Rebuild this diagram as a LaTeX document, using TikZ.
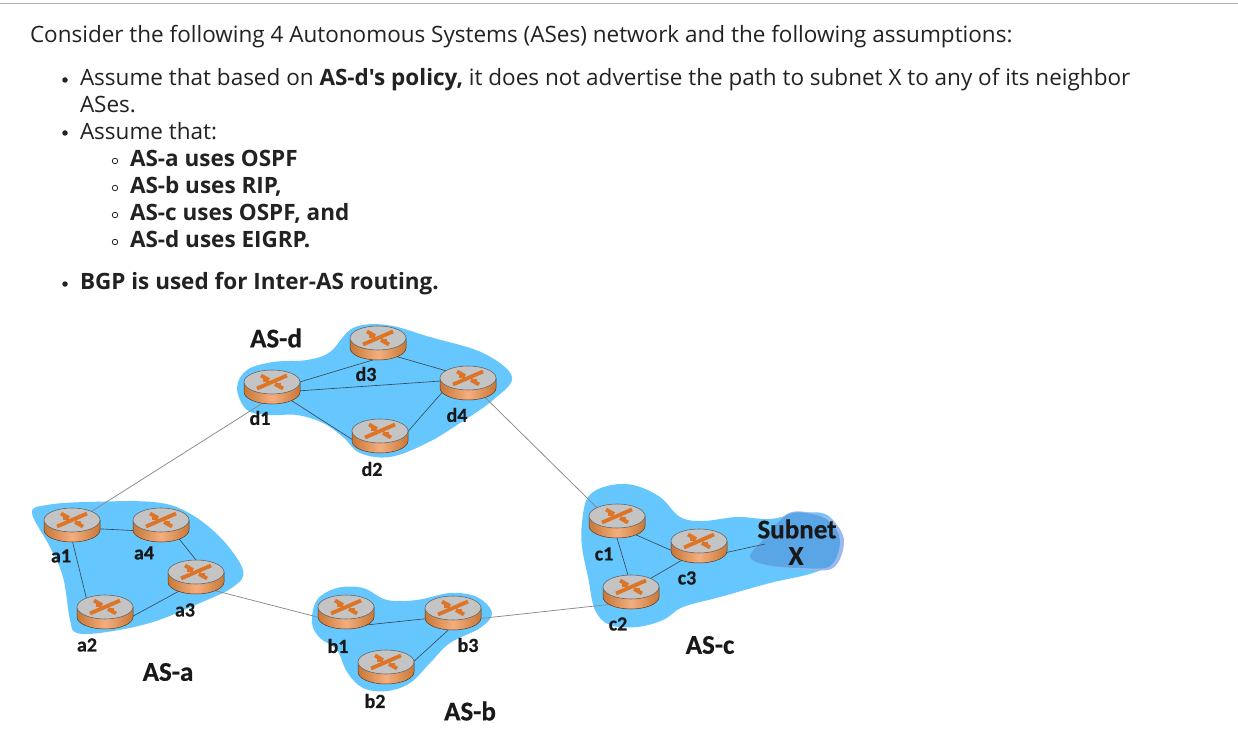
\documentclass[tikz,border=0pt]{standalone}
\usepackage{fontspec}
\newfontfamily\bodyfont{Open Sans}
\newfontfamily\lab{Carlito}[BoldFeatures={FakeBold=0.5}]
\definecolor{asblue}{HTML}{66C7FF}
\definecolor{subblue}{HTML}{5AA5E6}
\definecolor{subedge}{HTML}{9DB8EE}
\definecolor{txt}{HTML}{222222}
\definecolor{rtop}{HTML}{C4C4C4}
\definecolor{rside}{HTML}{F4AE7E}
\definecolor{rdark}{HTML}{C87838}
\definecolor{rcross}{HTML}{DD7426}
\definecolor{inner}{HTML}{3A4A55}
\definecolor{outer}{HTML}{8A8A8A}
\usetikzlibrary{shapes.geometric}
\tikzset{
  x=1pt,y=-1pt,
  body/.style={font=\bodyfont\fontsize{22.5}{26}\selectfont,text=txt,anchor=base west,inner sep=0pt,outer sep=0pt},
  bodyb/.style={body,font=\bodyfont\fontsize{22.5}{26}\selectfont\bfseries},
  dot/.style={circle,fill=txt,draw=none,minimum size=5.5pt,inner sep=0pt},
  ring/.style={circle,draw=txt,line width=.8pt,fill=none,minimum size=5.5pt,inner sep=0pt},
  blob/.style={fill=asblue,draw=none},
  rnode/.style={ellipse,minimum width=56pt,minimum height=34pt,inner sep=0pt,outer sep=0pt},
  inlink/.style={draw=inner,line width=.65pt},
  outlink/.style={draw=outer,line width=.75pt},
  rlabel/.style={font=\lab\bfseries\fontsize{20}{22}\selectfont,text=black!90,inner sep=0pt},
  aslabel/.style={font=\lab\bfseries\fontsize{27}{28}\selectfont,text=black!90,inner sep=0pt},
  sublabel/.style={font=\lab\bfseries\fontsize{27}{28}\selectfont,text=black!90,inner sep=0pt},
}
\newcommand{\routerdraw}[1]{%
  \begin{scope}[shift={(#1)}]
    \path[left color=rdark,right color=rdark,middle color=rside,draw=black!55!rdark,line width=.5pt]
      (-28,-5) -- (-28,5) arc[start angle=180,end angle=360,x radius=28pt,y radius=12pt] -- (28,-5) -- cycle;
    \path[fill=rtop,draw=black!60,line width=.6pt] (0,-5) ellipse[x radius=28pt,y radius=12pt];
    \draw[rcross,line width=3.8pt] (-11,-11.5) -- (-3,-7) (11,1.5) -- (3,-3)
      (15,-11.5) -- (-15,1.5);
    \draw[rcross,line width=3pt] (-3,-7) -- (-9,-7) (3,-3) -- (9,-3);
  \end{scope}}
\begin{document}
\begin{tikzpicture}
\useasboundingbox (0,0) rectangle (1238,743);
\fill[white] (0,0) rectangle (1238,743);
\draw[black!30,line width=1pt] (0,3.5) -- (1238,3.5);
% text
\node[body] (t0) at (30,42.6) {Consider the following 4 Autonomous Systems (ASes) network and the following assumptions:};
\node[dot] (b1) at (65,80) {};
\node[body] (t1) at (80,85.6) {Assume that based on \textbf{AS-d's policy,} it does not advertise the path to subnet X to any of its neighbor};
\node[body] (t1b) at (80,112.6) {ASes.};
\node[dot] (b2) at (65,133) {};
\node[body] (t2) at (80,139.6) {Assume that:};
\node[ring] (r1) at (115,161) {};
\node[bodyb] (t3) at (130,166.6) {AS-a uses OSPF};
\node[ring] (r2) at (115,188) {};
\node[bodyb] (t4) at (130,193.6) {AS-b uses RIP,};
\node[ring] (r3) at (115,215) {};
\node[bodyb] (t5) at (130,220.6) {AS-c uses OSPF, and};
\node[ring] (r4) at (115,242) {};
\node[bodyb] (t6) at (130,247.6) {AS-d uses EIGRP.};
\node[dot] (b3) at (65,284) {};
\node[bodyb] (t7) at (80,289.6) {BGP is used for Inter-AS routing.};
% blobs
\fill[blob] plot[smooth cycle,tension=.6] coordinates {(32,513)(47,505)(87,502)(153,502)(187,512)(220,537)(243,570)(233,587)(200,603)(153,622)(107,632)(77,633)(70,620)(63,577)(50,547)};
\fill[blob] plot[smooth cycle,tension=.6] coordinates {(237,388)(247,370)(273,362)(307,360)(330,352)(353,328)(387,325)(430,337)(483,353)(512,377)(493,400)(460,423)(427,443)(390,457)(360,453)(343,437)(323,423)(297,415)(270,415)(247,410)};
\fill[blob] plot[smooth cycle,tension=.6] coordinates {(582,523)(588,497)(607,486)(633,485)(660,497)(680,517)(703,521)(737,517)(770,519)(800,513)(827,515)(842,537)(837,560)(813,573)(770,583)(720,597)(683,607)(663,620)(637,627)(610,625)(595,610)(588,577)(582,547)};
\fill[blob] plot[smooth cycle,tension=.6] coordinates {(312,623)(317,600)(337,588)(363,588)(387,600)(417,600)(450,593)(477,597)(492,613)(480,628)(450,643)(430,663)(410,683)(387,691)(363,688)(347,672)(337,650)(320,638)};
\fill[subedge] plot[smooth cycle,tension=.6] coordinates {(750,557)(762,541)(787,514)(812,513)(832,520)(844,541)(833,568)(800,569)(767,565)};
\fill[subblue] plot[smooth cycle,tension=.6] coordinates {(750,557)(762,541)(787,515)(812,514)(830,522)(840,541)(830,566)(800,568)(767,565)};
% routers as named anchors
\foreach \n/\x/\y in {a1/72/525,a2/105/612,a3/196/577,a4/161/525,
  b1/346/612,b2/386/667,b3/453/613,
  c1/617/521,c2/631/592,c3/699/546,
  d1/272/387,d2/380/436,d3/378/343,d4/468/383}
  \node[rnode] (\n) at (\x,\y) {};
\coordinate (sx) at (765,544);
% links
\draw[inlink] (a1.-8)--(a4.192) (a4.-37)--(a3.90) (a3.220)--(a2.-10) (a2.145)--(a1.-88);
\draw[inlink] (b1.-37)--(b3.192) (b3.-105)--(b2.10);
\draw[inlink] (c1.-37)--(c3.190) (c3.220)--(c2.35) (c2.100)--(c1.-90);
\draw[inlink] (c3.-15)--(sx);
\draw[inlink] (d1.10)--(d3.-105) (d3.-37)--(d4.150) (d1.-8)--(d4.176) (d4.198)--(d2.8) (d2.188)--(d1.-35);
\draw[outlink] (a1.35)--(d1.-120) (a3.-37)--(b1.192) (b3.-12)--(c2.-148) (d4.-40)--(c1.147);
% router bodies
\foreach \n in {a1,a2,a3,a4,b1,b2,b3,c1,c2,c3,d1,d2,d3,d4}
  \routerdraw{\n.center};
% labels
\foreach \s/\x/\y in {a1/61/556,a2/87/645,a3/185/610,a4/144/553,
  b1/338/646,b2/375/701,b3/468/645,
  c1/604/554,c2/618/624,c3/687/578,
  d1/260/418,d2/372/469,d3/366/374,d4/457/415}
  \node[rlabel] (l\s) at (\x,\y) {\s};
\node[aslabel] (lasa) at (168,672) {AS-a};
\node[aslabel] (lasb) at (470,711) {AS-b};
\node[aslabel] (lasc) at (710,645) {AS-c};
\node[aslabel] (lasd) at (276,338) {AS-d};
\node[sublabel] (sub) at (797,529) {Subnet};
\node[sublabel] (subx) at (796,556) {X};
\end{tikzpicture}
\end{document}
